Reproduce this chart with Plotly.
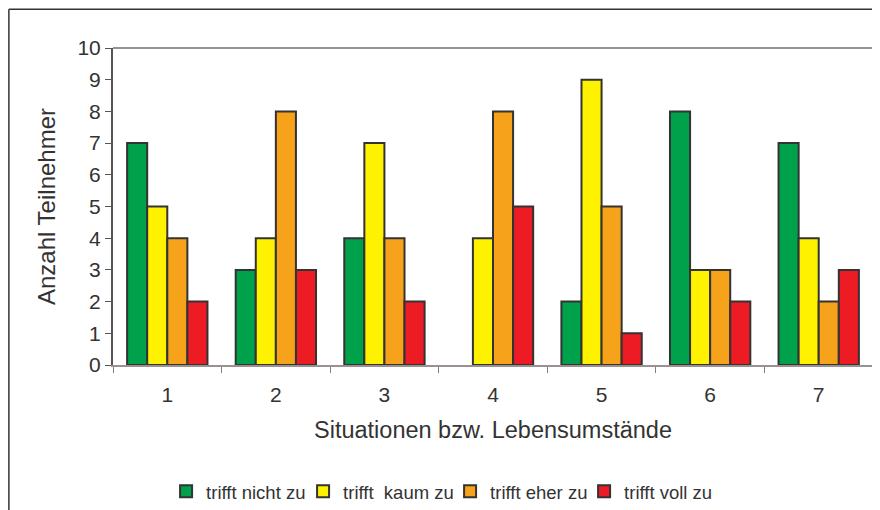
import plotly.graph_objects as go

# Daten
situationen = ["1", "2", "3", "4", "5", "6", "7"]
nicht_zu = [7, 3, 4, 0, 2, 8, 7]
kaum_zu = [5, 4, 7, 4, 9, 3, 4]
eher_zu = [4, 8, 4, 8, 5, 3, 2]
voll_zu = [2, 3, 2, 5, 1, 2, 3]

series = [
    ("trifft nicht zu", nicht_zu, "#00a14b", 92),
    ("trifft  kaum zu", kaum_zu, "#fff200", 102),
    ("trifft eher zu", eher_zu, "#f7a21b", 89),
    ("trifft voll zu", voll_zu, "#ed1c24", None),
]

font = dict(family="Liberation Sans, Arial, sans-serif", size=21, color="#333333")

fig = go.Figure()

for name, values, color, lw in series:
    # no outline for empty bars (value 0), like the original
    widths = [0 if v == 0 else 2 for v in values]
    fig.add_trace(
        go.Bar(
            x=situationen,
            y=values,
            name=name,
            legendwidth=lw,
            marker=dict(color=color, line=dict(color="#333333", width=widths)),
        )
    )

# the page body adds an 8px offset, so margins are set 8px smaller
fig.update_layout(
    width=880,
    height=510,
    margin=dict(l=105, r=15, t=40, b=153, autoexpand=False),
    paper_bgcolor="white",
    plot_bgcolor="white",
    font=font,
    barmode="group",
    bargap=0.26,
    bargroupgap=0,
    showlegend=True,
    legend=dict(
        orientation="h",
        xanchor="center",
        x=0.433,
        yanchor="middle",
        y=-0.40,
        font=dict(size=18.5, color="#333333"),
        itemwidth=30,
        tracegroupgap=0,
    ),
    xaxis=dict(
        type="category",
        tickson="boundaries",
        ticks="outside",
        ticklen=6,
        tickcolor="#7f7f7f",
        tickfont=dict(size=21),
        ticklabelstandoff=10,
        showline=True,
        linecolor="#9a908d",
        linewidth=2,
        showgrid=False,
        title=dict(text="Situationen bzw. Lebensumstände", standoff=16, font=dict(size=23.5)),
    ),
    yaxis=dict(
        range=[0, 10],
        dtick=1,
        ticks="outside",
        ticklen=6,
        tickcolor="#555555",
        tickfont=dict(size=21),
        showline=True,
        linecolor="#555555",
        linewidth=2,
        showgrid=False,
        zeroline=False,
        title=dict(text="Anzahl Teilnehmer", standoff=15, font=dict(size=24)),
    ),
    shapes=[
        # Rahmen der Zeichenfläche oben/rechts
        dict(type="line", xref="paper", yref="paper", x0=0, x1=1, y0=1, y1=1,
             line=dict(color="#9a908d", width=2)),
        dict(type="line", xref="paper", yref="paper", x0=1, x1=1, y0=0, y1=1,
             line=dict(color="#9a908d", width=2)),
        # äußerer Diagrammrahmen
        dict(type="line", xref="paper", yref="paper", x0=-0.137, x1=1.03, y0=1.122, y1=1.122,
             line=dict(color="#333333", width=1.5)),
        dict(type="line", xref="paper", yref="paper", x0=-0.137, x1=-0.137, y0=1.122, y1=-0.5,
             line=dict(color="#333333", width=1.5)),
    ],
)

fig.write_html("out.html")
